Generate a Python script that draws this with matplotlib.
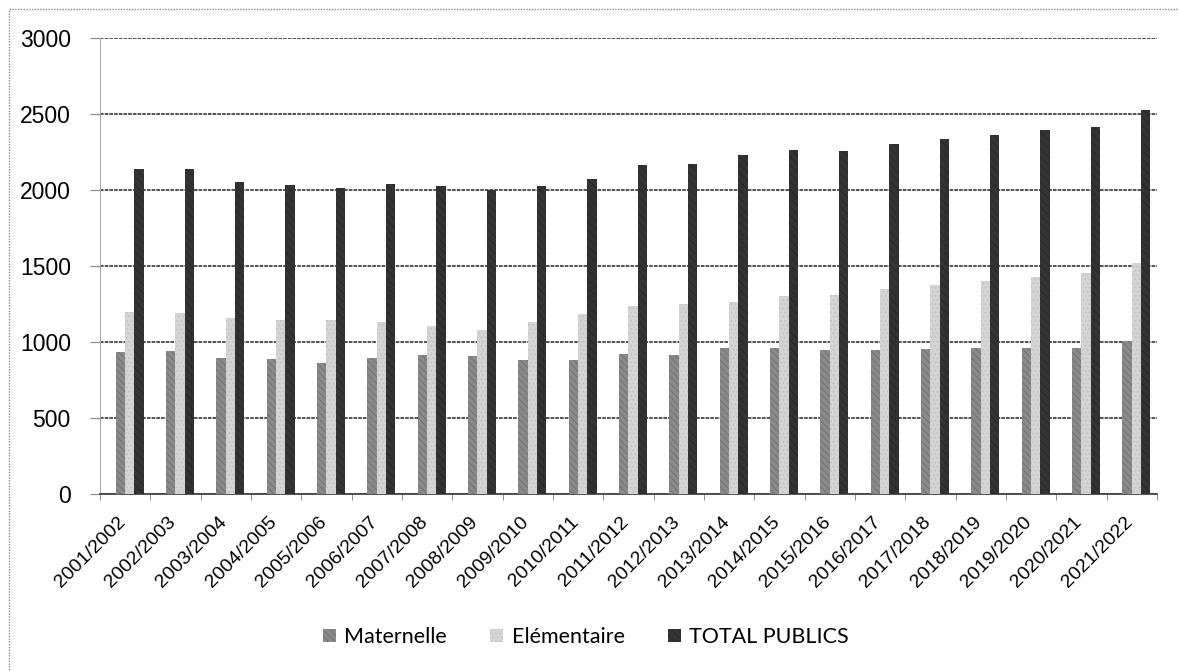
import matplotlib.pyplot as plt
import matplotlib.patches as mpatches
import matplotlib.transforms as mtransforms
import numpy as np

plt.rcParams["font.family"] = ["Liberation Sans", "DejaVu Sans"]
plt.rcParams["hatch.linewidth"] = 0.6

annees = [
    "2001/2002", "2002/2003", "2003/2004", "2004/2005", "2005/2006", "2006/2007",
    "2007/2008", "2008/2009", "2009/2010", "2010/2011", "2011/2012", "2012/2013",
    "2013/2014", "2014/2015", "2015/2016", "2016/2017", "2017/2018", "2018/2019",
    "2019/2020", "2020/2021", "2021/2022",
]
maternelle = [938, 945, 895, 888, 864, 895, 916, 912, 886, 884, 925, 919,
              965, 961, 950, 950, 956, 965, 965, 965, 1011]
elementaire = [1197, 1190, 1158, 1145, 1145, 1136, 1107, 1083, 1136, 1186, 1239, 1252,
               1265, 1305, 1311, 1353, 1377, 1403, 1428, 1456, 1522]
total_publics = [2140, 2140, 2054, 2035, 2015, 2039, 2026, 2002, 2028, 2074, 2164, 2173,
                 2230, 2265, 2259, 2305, 2333, 2364, 2392, 2418, 2528]

styles = {
    "Maternelle": dict(color="#8a8a8a", edgecolor="#6e6e6e", hatch="\\\\\\\\\\"),
    "Elémentaire": dict(color="#d4d4d4", edgecolor="#c0c0c0", hatch="...."),
    "TOTAL PUBLICS": dict(color="#333333", edgecolor="#262626", hatch="\\\\\\\\"),
}

fig = plt.figure(figsize=(11.79, 6.71), dpi=100)
ax = fig.add_axes([100 / 1179, 1 - 494.3 / 671, 1057 / 1179, (494.3 - 38) / 671])

x = np.arange(len(annees))
w = 0.185
shift = 0.09

ax.bar(x - w + shift, maternelle, width=w, linewidth=0, label="Maternelle",
       zorder=3, **styles["Maternelle"])
ax.bar(x + shift, elementaire, width=w, linewidth=0, label="Elémentaire",
       zorder=3, **styles["Elémentaire"])
ax.bar(x + w + shift, total_publics, width=w, linewidth=0, label="TOTAL PUBLICS",
       zorder=3, **styles["TOTAL PUBLICS"])

ax.set_xlim(-0.5, len(annees) - 0.5)
ax.set_ylim(0, 3000)
ax.set_yticks(range(0, 3001, 500))
ax.yaxis.grid(True, color="#444444", linewidth=1.3, linestyle=(0, (2, 0.6)), zorder=0)
ax.xaxis.grid(False)

ax.set_xticks(x)
ax.set_xticklabels(annees, rotation=45, ha="right", rotation_mode="anchor", fontsize=14)
ax.set_xticks(np.arange(len(annees) + 1) - 0.5, minor=True)
ax.tick_params(axis="x", which="major", length=0, pad=14)
ax.tick_params(axis="x", which="minor", length=4, color="#777777", direction="out")
ax.tick_params(axis="y", length=7, color="#888888", pad=14, labelsize=16.5)

decal = mtransforms.ScaledTranslation(-8 / 100, 0, fig.dpi_scale_trans)
for lab in ax.get_xticklabels():
    lab.set_transform(lab.get_transform() + decal)

for side in ["top", "right"]:
    ax.spines[side].set_visible(False)
ax.spines["left"].set_color("#aaaaaa")
ax.spines["left"].set_linestyle((0, (1, 1)))
ax.spines["bottom"].set_color("#444444")
ax.spines["bottom"].set_linewidth(1.3)

handles = [mpatches.Patch(facecolor=s["color"], edgecolor=s["edgecolor"], hatch=s["hatch"],
                          linewidth=0, label=nom) for nom, s in styles.items()]
fig.legend(handles=handles, loc="center", bbox_to_anchor=(586 / 1179, 1 - 637 / 671),
           ncol=3, frameon=False, prop={"family": "Lato", "size": 15.5},
           handlelength=0.6, handleheight=0.6, handletextpad=0.4, columnspacing=2.0)

# cadre pointillé autour du graphique
fig.add_artist(mpatches.Rectangle((9 / 1179, -0.05), 1.1, 1 - 9 / 671 + 0.05,
                                  transform=fig.transFigure, fill=False,
                                  edgecolor="#888888", linewidth=1, linestyle=(0, (1, 1))))

fig.savefig("out.png", dpi=100)
